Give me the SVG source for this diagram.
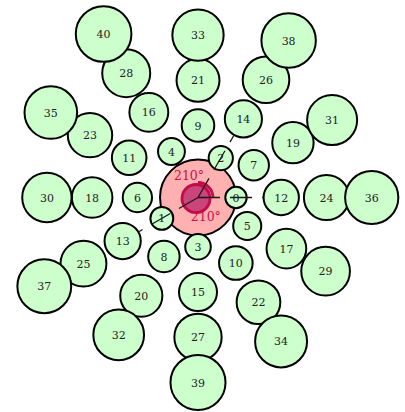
<svg xmlns="http://www.w3.org/2000/svg" width="405" height="412" viewBox="0 0 405 412">
<style>
.n circle{fill:#ccffcc;stroke:#000;stroke-width:2}
.n text{font-family:"DejaVu Serif",serif;font-size:11px;fill:#222;text-anchor:middle}
.ang{fill:none;stroke:#c30a4b;stroke-width:2.8}
.lbl{font-family:"DejaVu Serif",serif;font-size:12.5px;fill:#cc1148;text-anchor:middle}
#connectors line{stroke:#1a1a1a;stroke-width:1.3;stroke-dasharray:22,10}
</style>
<rect width="405" height="412" fill="#fff"/>
<g id="center"><circle cx="198" cy="197.5" r="38" fill="#ffb0b0" stroke="#000" stroke-width="2"/></g>
<g id="n0" class="n"><circle cx="236" cy="197.5" r="10.68"/><text x="236" y="201.5">0</text></g>
<g id="n1" class="n"><circle cx="161.83" cy="218.39" r="11.42"/><text x="161.83" y="222.39">1</text></g>
<g id="n2" class="n"><circle cx="220.77" cy="158.06" r="12.12"/><text x="220.77" y="162.06">2</text></g>
<g id="n3" class="n"><circle cx="198" cy="246.81" r="12.79"/><text x="198" y="250.81">3</text></g>
<g id="n4" class="n"><circle cx="171.46" cy="151.53" r="13.42"/><text x="171.46" y="155.53">4</text></g>
<g id="n5" class="n"><circle cx="247.23" cy="225.93" r="14.04"/><text x="247.23" y="229.93">5</text></g>
<g id="n6" class="n"><circle cx="137.38" cy="197.5" r="14.63"/><text x="137.38" y="201.5">6</text></g>
<g id="n7" class="n"><circle cx="253.76" cy="165.3" r="15.2"/><text x="253.76" y="169.3">7</text></g>
<g id="n8" class="n"><circle cx="163.92" cy="256.53" r="15.75"/><text x="163.92" y="260.53">8</text></g>
<g id="n9" class="n"><circle cx="198" cy="125.57" r="16.28"/><text x="198" y="129.57">9</text></g>
<g id="n10" class="n"><circle cx="235.85" cy="263.06" r="16.79"/><text x="235.85" y="267.06">10</text></g>
<g id="n11" class="n"><circle cx="129.18" cy="157.76" r="17.29"/><text x="129.18" y="161.76">11</text></g>
<g id="n12" class="n"><circle cx="281.24" cy="197.5" r="17.66"/><text x="281.24" y="201.5">12</text></g>
<g id="n13" class="n"><circle cx="122.65" cy="241.01" r="18.12"/><text x="122.65" y="245.01">13</text></g>
<g id="n14" class="n"><circle cx="243.39" cy="118.88" r="18.57"/><text x="243.39" y="122.88">14</text></g>
<g id="n15" class="n"><circle cx="198" cy="292.05" r="19.01"/><text x="198" y="296.05">15</text></g>
<g id="n16" class="n"><circle cx="148.84" cy="112.35" r="19.44"/><text x="148.84" y="116.35">16</text></g>
<g id="n17" class="n"><circle cx="286.41" cy="248.55" r="19.86"/><text x="286.41" y="252.55">17</text></g>
<g id="n18" class="n"><circle cx="92.14" cy="197.5" r="20.27"/><text x="92.14" y="201.5">18</text></g>
<g id="n19" class="n"><circle cx="292.94" cy="142.68" r="20.68"/><text x="292.94" y="146.68">19</text></g>
<g id="n20" class="n"><circle cx="141.3" cy="295.71" r="21.07"/><text x="141.3" y="299.71">20</text></g>
<g id="n21" class="n"><circle cx="198" cy="80.33" r="21.46"/><text x="198" y="84.33">21</text></g>
<g id="n22" class="n"><circle cx="258.47" cy="302.24" r="21.84"/><text x="258.47" y="306.24">22</text></g>
<g id="n23" class="n"><circle cx="90" cy="135.14" r="22.21"/><text x="90" y="139.14">23</text></g>
<g id="n24" class="n"><circle cx="326.48" cy="197.5" r="22.58"/><text x="326.48" y="201.5">24</text></g>
<g id="n25" class="n"><circle cx="83.47" cy="263.63" r="22.95"/><text x="83.47" y="267.63">25</text></g>
<g id="n26" class="n"><circle cx="266.01" cy="79.7" r="23.3"/><text x="266.01" y="83.7">26</text></g>
<g id="n27" class="n"><circle cx="198" cy="337.29" r="23.65"/><text x="198" y="341.29">27</text></g>
<g id="n28" class="n"><circle cx="126.22" cy="73.17" r="24"/><text x="126.22" y="77.17">28</text></g>
<g id="n29" class="n"><circle cx="325.59" cy="271.17" r="24.34"/><text x="325.59" y="275.17">29</text></g>
<g id="n30" class="n"><circle cx="46.9" cy="197.5" r="24.68"/><text x="46.9" y="201.5">30</text></g>
<g id="n31" class="n"><circle cx="332.12" cy="120.06" r="25.01"/><text x="332.12" y="124.06">31</text></g>
<g id="n32" class="n"><circle cx="118.68" cy="334.89" r="25.34"/><text x="118.68" y="338.89">32</text></g>
<g id="n33" class="n"><circle cx="198" cy="35.09" r="25.66"/><text x="198" y="39.09">33</text></g>
<g id="n34" class="n"><circle cx="281.09" cy="341.42" r="25.98"/><text x="281.09" y="345.42">34</text></g>
<g id="n35" class="n"><circle cx="50.82" cy="112.52" r="26.3"/><text x="50.82" y="116.52">35</text></g>
<g id="n36" class="n"><circle cx="371.72" cy="197.5" r="26.61"/><text x="371.72" y="201.5">36</text></g>
<g id="n37" class="n"><circle cx="44.29" cy="286.25" r="26.92"/><text x="44.29" y="290.25">37</text></g>
<g id="n38" class="n"><circle cx="288.63" cy="40.52" r="27.22"/><text x="288.63" y="44.52">38</text></g>
<g id="n39" class="n"><circle cx="198" cy="382.53" r="27.52"/><text x="198" y="386.53">39</text></g>
<g id="n40" class="n"><circle cx="103.6" cy="34" r="27.82"/><text x="103.6" y="38">40</text></g>
<g id="angles">
<circle cx="196" cy="198.5" r="14" class="ang" style="fill:#c9457a"/>
<path class="ang" d="M213,197.5 A15,15 0 0 0 198,182.5"/>
<text class="lbl" x="189" y="179.5">210°</text>
<text class="lbl" x="205.8" y="220.8">210°</text>
</g>
<g id="connectors">
<line x1="198" y1="197.5" x2="263.58" y2="197.5"/>
<line x1="198" y1="197.5" x2="138.34" y2="231.95"/>
<line x1="198" y1="197.5" x2="234.1" y2="134.96"/>
</g>
</svg>
